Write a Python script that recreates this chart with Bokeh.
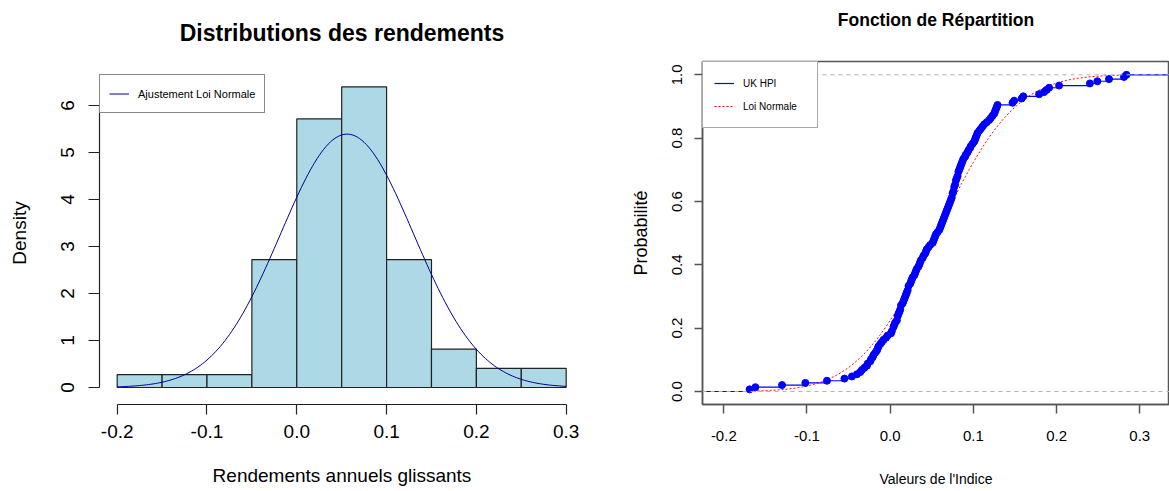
import math
from bokeh.plotting import figure
from bokeh.layouts import row
from bokeh.models import (Range1d, FixedTicker, PrintfTickFormatter, Legend,
                          LegendItem, Span, Title)
from bokeh.embed import file_html
from bokeh.resources import INLINE

# ---------------- data ----------------
rendements = [
    -0.169, -0.162, -0.130, -0.102, -0.076, -0.055,
    -0.046, -0.040, -0.036, -0.034, -0.031, -0.028, -0.027, -0.024, -0.023, -0.021,
    -0.020, -0.018, -0.016, -0.015, -0.014, -0.012, -0.010, -0.008, -0.005, -0.003,
    0.001, 0.002, 0.004, 0.004, 0.005, 0.006, 0.008, 0.009, 0.009, 0.010,
    0.011, 0.012, 0.013, 0.013, 0.015, 0.016, 0.017, 0.018, 0.019, 0.020,
    0.021, 0.022, 0.022, 0.024, 0.025, 0.026, 0.027, 0.029, 0.030, 0.031,
    0.032, 0.034, 0.035, 0.036, 0.037, 0.039, 0.040, 0.042, 0.043, 0.044,
    0.046, 0.048,
    0.051, 0.052, 0.053, 0.054, 0.055, 0.057, 0.059, 0.060, 0.061, 0.062,
    0.063, 0.064, 0.065, 0.066, 0.067, 0.068, 0.069, 0.070, 0.071, 0.072,
    0.073, 0.074, 0.075, 0.075, 0.076, 0.077, 0.077, 0.078, 0.079, 0.079,
    0.080, 0.081, 0.082, 0.082, 0.083, 0.084, 0.085, 0.086, 0.087, 0.088,
    0.090, 0.091, 0.093, 0.094, 0.096, 0.097, 0.099,
    0.101, 0.102, 0.103, 0.104, 0.105, 0.107, 0.109, 0.111, 0.113, 0.116,
    0.119, 0.121, 0.123, 0.125, 0.126, 0.127, 0.128, 0.129, 0.147, 0.149,
    0.158, 0.160, 0.179, 0.185, 0.188, 0.191,
    0.203, 0.240, 0.249,
    0.263, 0.281, 0.284,
]
bin_edges = [-0.20, -0.15, -0.10, -0.05, 0.00, 0.05, 0.10, 0.15, 0.20, 0.25, 0.30]
x_ticks = [-0.2, -0.1, 0.0, 0.1, 0.2, 0.3]
y_ticks_density = [0, 1, 2, 3, 4, 5, 6]
y_ticks_prob = [0.0, 0.2, 0.4, 0.6, 0.8, 1.0]
MU = 0.056      # fitted normal mean
SIGMA = 0.074   # fitted normal sd

TITLE_LEFT = "Distributions des rendements"
TITLE_RIGHT = "Fonction de Répartition"
XLABEL_LEFT = "Rendements annuels glissants"
YLABEL_LEFT = "Density"
XLABEL_RIGHT = "Valeurs de l'Indice"
YLABEL_RIGHT = "Probabilité"
LEG_LEFT = "Ajustement Loi Normale"
LEG_RIGHT = ["UK HPI", "Loi Normale"]

FONT = "Liberation Sans"
BLUE = "#0000FF"

n = len(rendements)

# histogram (R style: right-closed bins), density scale
lefts, rights, dens = [], [], []
for lo, hi in zip(bin_edges[:-1], bin_edges[1:]):
    c = sum(1 for v in rendements if lo < v <= hi or (lo == bin_edges[0] and v == lo))
    lefts.append(lo)
    rights.append(hi)
    dens.append(c / (n * (hi - lo)))

def dnorm(x):
    return math.exp(-0.5 * ((x - MU) / SIGMA) ** 2) / (SIGMA * math.sqrt(2 * math.pi))

def pnorm(x):
    return 0.5 * (1 + math.erf((x - MU) / (SIGMA * math.sqrt(2))))

def add_title(p, text, size, gap, offset=0):
    # spacer closest to the frame, then the real title
    p.add_layout(Title(text=" ", text_font_size="1px", standoff=gap), "above")
    p.add_layout(Title(text=text, align="center", offset=offset, text_font=FONT,
                       text_font_size=size, text_font_style="bold",
                       text_color="black", standoff=0), "above")

# ---------------- left: histogram ----------------
p1 = figure(width=590, height=491, output_backend="svg", toolbar_location=None,
            x_range=Range1d(-0.2197, 0.3204), y_range=Range1d(-0.362, 6.936),
            min_border_left=99, min_border_right=6, min_border_top=61,
            min_border_bottom=87, title_location=None)
p1.quad(left=lefts, right=rights, bottom=0, top=dens, fill_color="#ADD8E6",
        line_color="#222222", line_width=1.2)
nx = 201
cx = [bin_edges[0] + (bin_edges[-1] - bin_edges[0]) * i / (nx - 1) for i in range(nx)]
curve = p1.line(cx, [dnorm(v) for v in cx], line_color="#00008B", line_width=1)

leg1 = Legend(items=[LegendItem(label=LEG_LEFT, renderers=[curve])],
              location=(0, 291), margin=0, padding=9, spacing=0,
              glyph_width=20, glyph_height=19, label_height=19, label_standoff=9,
              label_text_font=FONT, label_text_font_size="11px",
              label_text_color="black", border_line_color="#111111",
              border_line_width=1.2, background_fill_alpha=1)
p1.add_layout(leg1)
add_title(p1, TITLE_LEFT, "23px", 13)

ax = p1.xaxis[0]
ax.ticker = FixedTicker(ticks=x_ticks)
ax.formatter = PrintfTickFormatter(format="%.1f")
ax.bounds = (x_ticks[0], x_ticks[-1])
ay = p1.yaxis[0]
ay.ticker = FixedTicker(ticks=y_ticks_density)
ay.bounds = (y_ticks_density[0], y_ticks_density[-1])
ay.major_label_orientation = "vertical"
for a in (ax, ay):
    a.axis_line_color = "#222222"
    a.axis_line_width = 1.2
    a.major_tick_line_color = "#222222"
    a.major_tick_line_width = 1.2
    a.major_tick_in = 0
    a.minor_tick_line_color = None
    a.major_label_text_font = FONT
    a.major_label_text_font_size = "19px"
    a.major_label_text_color = "black"
    a.axis_label_text_font = FONT
    a.axis_label_text_font_size = "19px"
    a.axis_label_text_font_style = "normal"
    a.axis_label_text_color = "black"
ax.major_tick_out = 10
ax.major_label_standoff = 10
ax.axis_label = XLABEL_LEFT
ax.axis_label_standoff = 24
ay.major_tick_out = 11
ay.major_label_standoff = 14
ay.axis_label = YLABEL_LEFT
ay.axis_label_standoff = 29
p1.xgrid.grid_line_color = None
p1.ygrid.grid_line_color = None
p1.outline_line_color = None

# ---------------- right: ECDF ----------------
X0, X1 = -0.2256, 0.3357
p2 = figure(width=579, height=491, output_backend="svg", toolbar_location=None,
            x_range=Range1d(X0, X1), y_range=Range1d(-0.041, 1.042),
            min_border_left=112, min_border_right=0, min_border_top=61,
            min_border_bottom=87, title_location=None)

srt = sorted(rendements)
knots, cum = [], []
for i, v in enumerate(srt):
    if knots and v == knots[-1]:
        cum[-1] = (i + 1) / n
    else:
        knots.append(v)
        cum.append((i + 1) / n)
seg_x0 = [X0] + knots
seg_x1 = knots + [X1]
seg_y0 = [0.0] + cum
seg_y1 = list(seg_y0)
steps = p2.segment(x0=seg_x0, y0=seg_y0, x1=seg_x1, y1=seg_y1,
                   line_color=BLUE, line_width=1.2)
m = 200
gx = [srt[0] + (srt[-1] - srt[0]) * i / (m - 1) for i in range(m)]
red = p2.line(gx, [pnorm(v) for v in gx], line_color="red", line_width=1,
              line_dash="2 2")
p2.scatter(knots, cum, size=7, fill_color=BLUE, line_color=BLUE)
for loc in (0, 1):
    p2.add_layout(Span(location=loc, dimension="width", line_color="#B3B3B3",
                       line_dash="4 4", line_width=1))

leg2 = Legend(items=[LegendItem(label=LEG_RIGHT[0], renderers=[steps]),
                     LegendItem(label=LEG_RIGHT[1], renderers=[red])],
              location="top_left", margin=0, padding=11, spacing=3,
              glyph_width=20, glyph_height=20, label_height=20, label_width=63,
              label_standoff=9, label_text_font=FONT,
              label_text_font_size="10px", label_text_color="black",
              border_line_color="#555555", border_line_width=1.5,
              background_fill_alpha=1)
p2.add_layout(leg2)
add_title(p2, TITLE_RIGHT, "17.5px", 29, offset=2)

bx = p2.xaxis[0]
bx.ticker = FixedTicker(ticks=x_ticks)
bx.formatter = PrintfTickFormatter(format="%.1f")
by = p2.yaxis[0]
by.ticker = FixedTicker(ticks=y_ticks_prob)
by.formatter = PrintfTickFormatter(format="%.1f")
by.major_label_orientation = "vertical"
for a in (bx, by):
    a.axis_line_color = "#555555"
    a.axis_line_width = 1.5
    a.major_tick_line_color = "#555555"
    a.major_tick_line_width = 1.5
    a.major_tick_in = 0
    a.minor_tick_line_color = None
    a.major_label_text_font = FONT
    a.major_label_text_font_size = "15px"
    a.major_label_text_color = "black"
    a.axis_label_text_font = FONT
    a.axis_label_text_font_style = "normal"
    a.axis_label_text_color = "black"
bx.major_tick_out = 9
bx.major_label_standoff = 17
bx.axis_label = XLABEL_RIGHT
bx.axis_label_text_font_size = "14px"
bx.axis_label_standoff = 27
by.major_tick_out = 8
by.major_label_standoff = 12
by.axis_label = YLABEL_RIGHT
by.axis_label_text_font_size = "18px"
by.axis_label_standoff = 19
p2.xgrid.grid_line_color = None
p2.ygrid.grid_line_color = None
p2.outline_line_color = "#555555"
p2.outline_line_width = 1.5

layout = row(p1, p2)
open("out.html", "w").write(file_html(layout, INLINE))
